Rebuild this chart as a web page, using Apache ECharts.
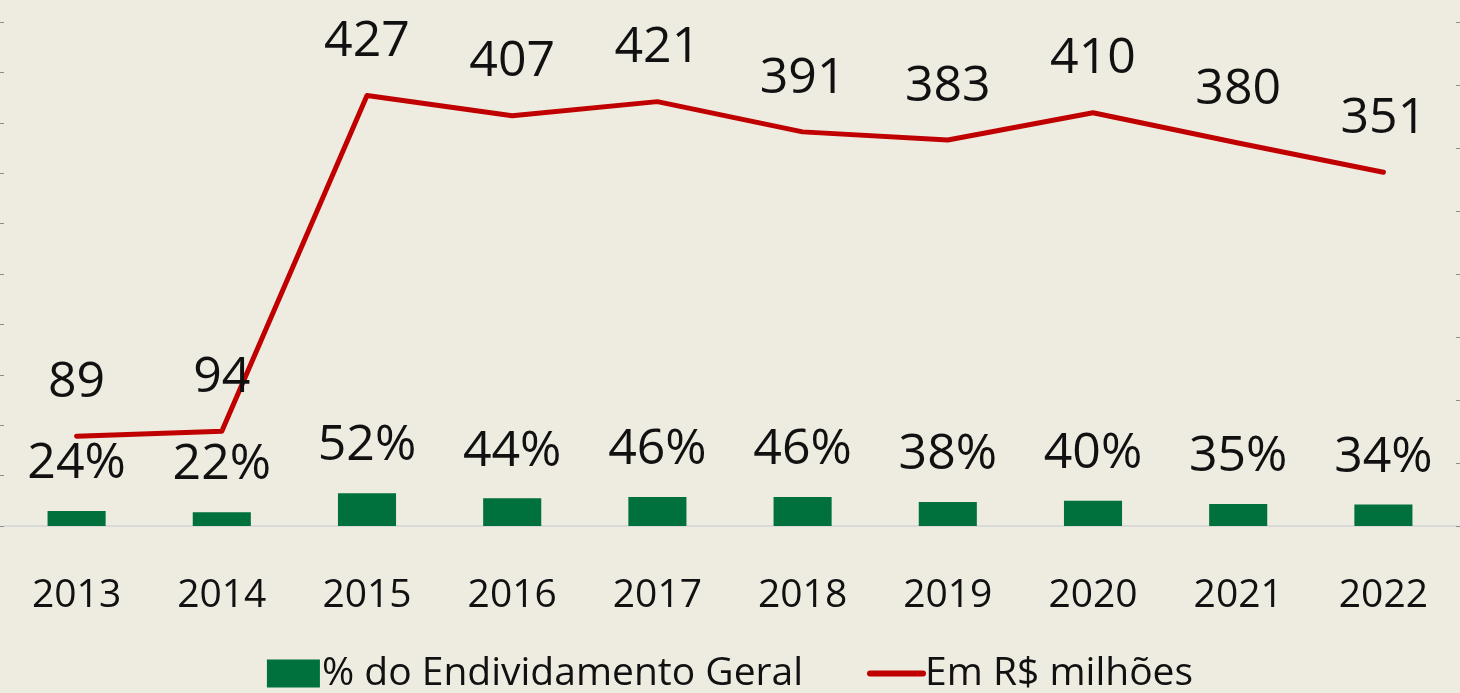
<!DOCTYPE html>
<html>
<head>
<meta charset="utf-8">
<script src="https://cdn.jsdelivr.net/npm/echarts@6/dist/echarts.min.js"></script>
<style>
  html, body { margin: 0; padding: 0; background: #eeebe0; }
  #chart { width: 1460px; height: 693px; }
</style>
</head>
<body>
<div id="chart"></div>
<script>
// anos
var anos = ['2013', '2014', '2015', '2016', '2017', '2018', '2019', '2020', '2021', '2022'];
// % do endividamento geral (barras, eixo direito)
var percEndividamento = [0.24, 0.22, 0.52, 0.44, 0.46, 0.46, 0.38, 0.40, 0.35, 0.34];
// valores em R$ milhões (linha, eixo esquerdo)
var emMilhoes = [89, 94, 427, 407, 421, 391, 383, 410, 380, 351];

var fonte = '"Open Sans", "Noto Sans", sans-serif';

var chart = echarts.init(document.getElementById('chart'));

var option = {
  backgroundColor: '#eeebe0',
  animation: false,
  grid: { left: 4, right: 4, top: 22, bottom: 167, containLabel: false },
  legend: {
    top: 649,
    left: 'center',
    itemGap: 64,
    itemWidth: 53,
    itemHeight: 28,
    textStyle: { fontFamily: fonte, fontSize: 39, color: '#111', padding: [0, 0, 0, -3] },
    data: [
      { name: '% do Endividamento Geral', icon: 'rect' },
      { name: 'Em R$ milhões', itemStyle: { opacity: 0 }, lineStyle: { width: 6, cap: 'round', color: '#c00000' } }
    ]
  },
  xAxis: {
    type: 'category',
    data: anos,
    axisLine: { show: true, lineStyle: { color: '#d9d9d9', width: 2 } },
    axisTick: { show: false },
    axisLabel: { fontFamily: fonte, fontSize: 39, color: '#111', margin: 50 }
  },
  yAxis: [
    {
      type: 'value',
      min: 0, max: 500, interval: 50,
      position: 'left',
      axisLine: { show: true, lineStyle: { color: 'rgba(0,0,0,0)' } },
      axisTick: { show: true, length: 4, lineStyle: { color: '#8c8c8c' } },
      axisLabel: { show: false },
      splitLine: { show: false }
    },
    {
      type: 'value',
      min: 0, max: 8, interval: 1,
      position: 'right',
      axisLine: { show: true, lineStyle: { color: 'rgba(0,0,0,0)' } },
      axisTick: { show: true, length: 4, lineStyle: { color: '#8c8c8c' } },
      axisLabel: { show: false },
      splitLine: { show: false }
    }
  ],
  series: [
    {
      name: '% do Endividamento Geral',
      type: 'bar',
      yAxisIndex: 1,
      data: percEndividamento,
      barWidth: '40%',
      itemStyle: { color: '#00703c' },
      label: {
        show: true,
        position: 'top',
        distance: 22,
        fontFamily: fonte,
        fontSize: 50,
        color: '#111',
        formatter: function (p) { return Math.round(p.value * 100) + '%'; }
      }
    },
    {
      name: 'Em R$ milhões',
      type: 'line',
      yAxisIndex: 0,
      data: emMilhoes,
      showSymbol: true,
      symbol: 'circle',
      symbolSize: 1,
      lineStyle: { color: '#c00000', width: 5, cap: 'round', join: 'round' },
      itemStyle: { color: '#c00000' },
      label: {
        show: true,
        position: 'top',
        distance: 28,
        fontFamily: fonte,
        fontSize: 50,
        color: '#111'
      }
    }
  ]
};

chart.setOption(option);
</script>
</body>
</html>
